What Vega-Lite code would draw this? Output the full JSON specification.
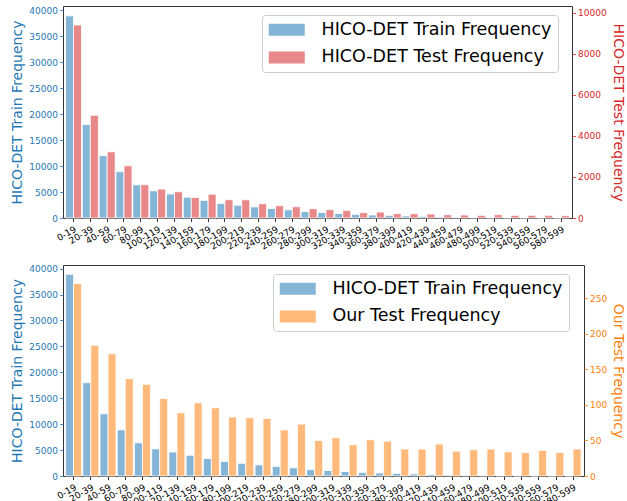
{
  "$schema": "https://vega.github.io/schema/vega-lite/v6.json",
  "padding": {"left": 10, "top": 5, "right": 5, "bottom": 0},
  "background": "white",
  "config": {
    "font": "DejaVu Sans",
    "view": {"stroke": "#333333", "strokeWidth": 1},
    "axis": {"grid": false, "domain": false, "tickSize": 3.5, "tickWidth": 0.8, "labelFontSize": 9, "labelPadding": 2, "titleFontSize": 14, "titleFontWeight": "normal", "labelColor": "#000000", "tickColor": "#000000"},
    "legend": {"labelFont": "DejaVu Sans"}
  },
  "data": {"values": [
    {"bin": "0-19", "train": 38900, "test": 9400, "ours": 271},
    {"bin": "20-39", "train": 18000, "test": 5000, "ours": 184},
    {"bin": "40-59", "train": 12000, "test": 3225, "ours": 172},
    {"bin": "60-79", "train": 8900, "test": 2545, "ours": 137},
    {"bin": "80-99", "train": 6400, "test": 1620, "ours": 129},
    {"bin": "100-119", "train": 5230, "test": 1410, "ours": 109},
    {"bin": "120-139", "train": 4620, "test": 1280, "ours": 89},
    {"bin": "140-159", "train": 4000, "test": 1000, "ours": 103},
    {"bin": "160-179", "train": 3380, "test": 1160, "ours": 96},
    {"bin": "180-199", "train": 2800, "test": 890, "ours": 83},
    {"bin": "200-219", "train": 2450, "test": 890, "ours": 82},
    {"bin": "220-239", "train": 2140, "test": 695, "ours": 81},
    {"bin": "240-259", "train": 1830, "test": 600, "ours": 65},
    {"bin": "260-279", "train": 1570, "test": 550, "ours": 73},
    {"bin": "280-299", "train": 1230, "test": 450, "ours": 50},
    {"bin": "300-319", "train": 1050, "test": 405, "ours": 54},
    {"bin": "320-339", "train": 870, "test": 370, "ours": 44},
    {"bin": "340-359", "train": 700, "test": 260, "ours": 51},
    {"bin": "360-379", "train": 580, "test": 290, "ours": 49},
    {"bin": "380-399", "train": 510, "test": 210, "ours": 38},
    {"bin": "400-419", "train": 385, "test": 210, "ours": 38},
    {"bin": "420-439", "train": 310, "test": 195, "ours": 45},
    {"bin": "440-459", "train": 180, "test": 160, "ours": 35},
    {"bin": "460-479", "train": 120, "test": 145, "ours": 37},
    {"bin": "480-499", "train": 70, "test": 130, "ours": 38},
    {"bin": "500-519", "train": 50, "test": 160, "ours": 34},
    {"bin": "520-539", "train": 40, "test": 130, "ours": 33},
    {"bin": "540-559", "train": 30, "test": 130, "ours": 36},
    {"bin": "560-579", "train": 25, "test": 130, "ours": 33},
    {"bin": "580-599", "train": 20, "test": 115, "ours": 38}
  ]},
  "spacing": 12,
  "vconcat": [
    {
      "width": 509,
      "height": 212,
      "layer": [
        {
          "mark": {"type": "bar", "stroke": "white", "strokeWidth": 0.8},
          "encoding": {
            "x": {"field": "bin", "type": "nominal", "sort": null, "scale": {"paddingInner": 0.05, "paddingOuter": 0.15}, "axis": {"title": null, "labelAngle": -30, "labelAlign": "right", "labelBaseline": "top", "labelFontSize": 9, "labelPadding": 3}},
            "xOffset": {"datum": "a", "scale": {"domain": ["a", "b"]}},
            "y": {"field": "train", "type": "quantitative", "scale": {"domain": [0, 40800], "nice": false}, "axis": {"orient": "left", "title": "HICO-DET Train Frequency", "titleColor": "#1f77b4", "labelColor": "#1f77b4", "tickColor": "#1f77b4", "values": [0, 5000, 10000, 15000, 20000, 25000, 30000, 35000, 40000], "format": "d", "titlePadding": 4}},
            "color": {"datum": "HICO-DET Train Frequency", "type": "nominal", "scale": {"domain": ["HICO-DET Train Frequency", "HICO-DET Test Frequency"], "range": ["#84b4d6", "#e88889"]}, "legend": {"title": null, "orient": "none", "legendX": 199, "legendY": 9, "labelFontSize": 17.5, "labelLimit": 600, "labelOffset": 36, "symbolType": "M-1,-0.75L3.5,-0.75L3.5,0.75L-1,0.75Z", "symbolSize": 256, "symbolStrokeWidth": 0, "fillColor": "rgba(255,255,255,0.8)", "strokeColor": "#cccccc", "cornerRadius": 3, "padding": 6, "rowPadding": 8.7}}
          }
        },
        {
          "mark": {"type": "bar", "stroke": "white", "strokeWidth": 0.8},
          "encoding": {
            "x": {"field": "bin", "type": "nominal", "sort": null, "scale": {"paddingInner": 0.05, "paddingOuter": 0.15}, "axis": {"title": null, "labelAngle": -30, "labelAlign": "right", "labelBaseline": "top", "labelFontSize": 9, "labelPadding": 3}},
            "xOffset": {"datum": "b", "scale": {"domain": ["a", "b"]}},
            "y": {"field": "test", "type": "quantitative", "scale": {"domain": [0, 10324], "nice": false}, "axis": {"orient": "right", "title": "HICO-DET Test Frequency", "titleColor": "#d62728", "labelColor": "#d62728", "tickColor": "#d62728", "values": [0, 2000, 4000, 6000, 8000, 10000], "format": "d", "titlePadding": 4}},
            "color": {"datum": "HICO-DET Test Frequency", "type": "nominal"}
          }
        }
      ],
      "resolve": {"scale": {"y": "independent"}}
    },
    {
      "width": 521,
      "height": 211,
      "layer": [
        {
          "mark": {"type": "bar", "stroke": "white", "strokeWidth": 0.8},
          "encoding": {
            "x": {"field": "bin", "type": "nominal", "sort": null, "scale": {"paddingInner": 0.05, "paddingOuter": 0.15}, "axis": {"title": null, "labelAngle": -30, "labelAlign": "right", "labelBaseline": "top", "labelFontSize": 9, "labelPadding": 3}},
            "xOffset": {"datum": "a", "scale": {"domain": ["a", "b"]}},
            "y": {"field": "train", "type": "quantitative", "scale": {"domain": [0, 40700], "nice": false}, "axis": {"orient": "left", "title": "HICO-DET Train Frequency", "titleColor": "#1f77b4", "labelColor": "#1f77b4", "tickColor": "#1f77b4", "values": [0, 5000, 10000, 15000, 20000, 25000, 30000, 35000, 40000], "format": "d", "titlePadding": 4}},
            "color": {"datum": "HICO-DET Train Frequency", "type": "nominal", "scale": {"domain": ["HICO-DET Train Frequency", "Our Test Frequency"], "range": ["#84b4d6", "#ffb97a"]}, "legend": {"title": null, "orient": "none", "legendX": 210, "legendY": 9, "labelFontSize": 17.5, "labelLimit": 600, "labelOffset": 36, "symbolType": "M-1,-0.75L3.5,-0.75L3.5,0.75L-1,0.75Z", "symbolSize": 256, "symbolStrokeWidth": 0, "fillColor": "rgba(255,255,255,0.8)", "strokeColor": "#cccccc", "cornerRadius": 3, "padding": 6, "rowPadding": 8.7}}
          }
        },
        {
          "mark": {"type": "bar", "stroke": "white", "strokeWidth": 0.8},
          "encoding": {
            "x": {"field": "bin", "type": "nominal", "sort": null, "scale": {"paddingInner": 0.05, "paddingOuter": 0.15}, "axis": {"title": null, "labelAngle": -30, "labelAlign": "right", "labelBaseline": "top", "labelFontSize": 9, "labelPadding": 3}},
            "xOffset": {"datum": "b", "scale": {"domain": ["a", "b"]}},
            "y": {"field": "ours", "type": "quantitative", "scale": {"domain": [0, 297], "nice": false}, "axis": {"orient": "right", "title": "Our Test Frequency", "titleColor": "#ff7f0e", "labelColor": "#ff7f0e", "tickColor": "#ff7f0e", "values": [0, 50, 100, 150, 200, 250], "format": "d", "titlePadding": 4}},
            "color": {"datum": "Our Test Frequency", "type": "nominal"}
          }
        }
      ],
      "resolve": {"scale": {"y": "independent"}}
    }
  ],
  "resolve": {"scale": {"color": "independent"}}
}
